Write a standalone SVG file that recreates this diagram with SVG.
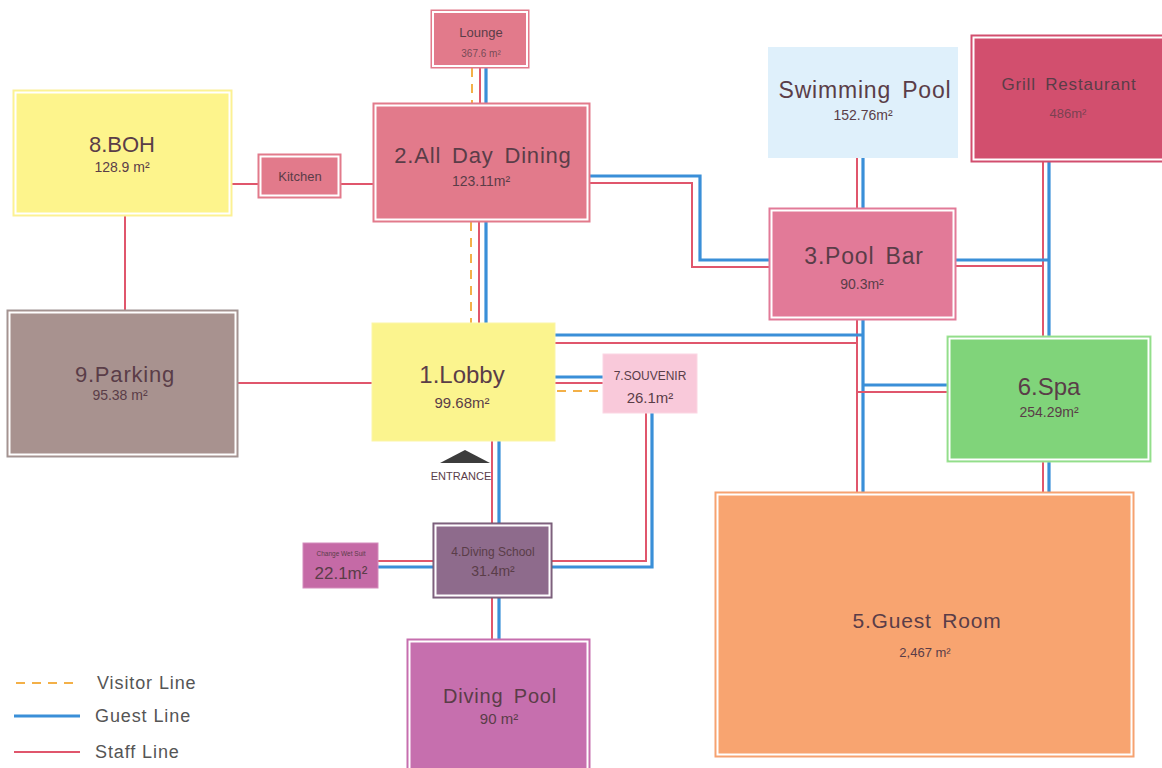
<svg xmlns="http://www.w3.org/2000/svg" width="1162" height="768" viewBox="0 0 1162 768">
<style>
.t{font-family:"Liberation Sans",Arial,sans-serif;text-anchor:middle;fill:#5a3d48}
.ls{letter-spacing:0.8px;word-spacing:4px}
.s{fill:none;stroke:#e0566c;stroke-width:2}
.g{fill:none;stroke:#3a8fd8;stroke-width:3.2}
.v{fill:none;stroke:#f3b048;stroke-width:2;stroke-dasharray:9 7}
.gap{fill:none;stroke:#ffffff;stroke-width:2}
.lg{font-family:"Liberation Sans",Arial,sans-serif;font-size:18px;fill:#555;letter-spacing:0.9px}
</style>
<rect width="1162" height="768" fill="#ffffff"/>
<g id="connectors">
<path class="v" d="M472,68 V103"/><path class="s" d="M480,68 V103"/><path class="g" d="M486,68 V103"/>
<path class="v" d="M471,222 V323"/><path class="s" d="M479,222 V323"/><path class="g" d="M486,222 V323"/>
<path class="s" d="M232,184 H258"/><path class="s" d="M341,184 H373"/>
<path class="s" d="M125,216 V310"/>
<path class="s" d="M238,383 H372"/>
<path class="g" d="M590,176 H700 V260 H769"/>
<path class="s" d="M590,183 H692 V267 H769"/>
<path class="s" d="M857,157 V208"/><path class="g" d="M863,157 V208"/>
<path class="s" d="M1043,162 V336"/><path class="g" d="M1049,162 V336"/>
<path class="s" d="M1043,462 V492"/><path class="g" d="M1049,462 V492"/>
<path class="g" d="M956,260 H1049"/><path class="s" d="M956,266 H1043"/>
<path class="s" d="M857,320 V492"/><path class="g" d="M863,320 V492"/>
<path class="g" d="M555,335 H863"/><path class="s" d="M555,343 H857"/>
<path class="g" d="M863,385 H947"/><path class="s" d="M857,392 H947"/>
<path class="g" d="M555,377 H603"/><path class="s" d="M555,383 H603"/><path class="v" d="M557,391 H603"/>
<path class="s" d="M646,413 V561 H552"/><path class="g" d="M652,413 V567 H552"/>
<path class="s" d="M492,441 V523"/><path class="g" d="M499,441 V523"/>
<path class="s" d="M492,598 V639"/><path class="g" d="M499,598 V639"/>
<path class="s" d="M378,561 H433"/><path class="g" d="M378,567 H433"/>
</g>
<g id="lounge">
<rect x="431" y="10" width="98" height="58" fill="#e27a8b" stroke="#e27a8b"/>
<rect x="433" y="12" width="94" height="54" class="gap"/>
<text class="t" x="481" y="37" font-size="13">Lounge</text>
<text class="t" x="481" y="57" font-size="10" fill-opacity="0.8">367.6 m²</text>
</g>
<g id="dining">
<rect x="373" y="103" width="217" height="119" fill="#e27a8b" stroke="#e27a8b"/>
<rect x="375.5" y="105.5" width="212" height="114" class="gap"/>
<text class="t ls" x="483" y="163" font-size="22">2.All Day Dining</text>
<text class="t" x="481" y="186" font-size="14">123.11m²</text>
</g>
<g id="boh">
<rect x="13" y="90" width="219" height="126" fill="#fdf48c" stroke="#fbef9a"/>
<rect x="15.5" y="92.5" width="214" height="121" class="gap"/>
<text class="t" x="122" y="152" font-size="22" fill="#4e4136">8.BOH</text>
<text class="t" x="122" y="172" font-size="14" fill="#4e4136">128.9 m²</text>
</g>
<g id="kitchen">
<rect x="258" y="154" width="83" height="44" fill="#e27a8b" stroke="#e27a8b"/>
<rect x="260.5" y="156.5" width="78" height="39" class="gap"/>
<text class="t" x="300" y="181" font-size="13">Kitchen</text>
</g>
<g id="swimming-pool">
<rect x="768" y="47" width="190" height="111" fill="#dff0fb"/>
<text class="t ls" x="865" y="98" font-size="23" fill="#2f5165">Swimming Pool</text>
<text class="t" x="863" y="120" font-size="14" fill="#2f5165">152.76m²</text>
</g>
<g id="grill">
<rect x="971" y="35" width="195" height="127" fill="#d24f6e" stroke="#d24f6e"/>
<rect x="973.5" y="37.5" width="195" height="122" class="gap"/>
<text class="t ls" x="1069" y="90" font-size="17">Grill Restaurant</text>
<text class="t" x="1068" y="118" font-size="13" fill-opacity="0.75">486m²</text>
</g>
<g id="pool-bar">
<rect x="769" y="208" width="187" height="112" fill="#e27a98" stroke="#e27a98"/>
<rect x="771.5" y="210.5" width="182" height="107" class="gap"/>
<text class="t ls" x="864" y="264" font-size="23">3.Pool Bar</text>
<text class="t" x="862" y="289" font-size="14">90.3m²</text>
</g>
<g id="parking">
<rect x="7" y="310" width="231" height="147" fill="#a8928f" stroke="#a09494"/>
<rect x="9.5" y="312.5" width="226" height="142" class="gap"/>
<text class="t ls" x="125" y="382" font-size="22" fill="#4a3c3e">9.Parking</text>
<text class="t" x="120" y="400" font-size="14" fill="#5d4c4e">95.38 m²</text>
</g>
<g id="lobby">
<rect x="372" y="323" width="183" height="118" fill="#fbf48e" stroke="#fbf5a8"/>
<text class="t" x="462" y="383" font-size="24" fill="#4e4136">1.Lobby</text>
<text class="t" x="462" y="408" font-size="15" fill="#4e4136">99.68m²</text>
</g>
<g id="entrance">
<polygon points="440,463 465,450 490,463" fill="#3c3c3c"/>
<text class="t" x="461" y="480" font-size="11" fill="#444">ENTRANCE</text>
</g>
<g id="souvenir">
<rect x="603" y="354" width="94" height="59" fill="#f9c9da" stroke="#fbd6e3"/>
<text class="t" x="650" y="380" font-size="12">7.SOUVENIR</text>
<text class="t" x="650" y="403" font-size="15">26.1m²</text>
</g>
<g id="spa">
<rect x="947" y="336" width="204" height="126" fill="#80d47a" stroke="#a6e89c"/>
<rect x="949.5" y="338.5" width="199" height="121" class="gap"/>
<text class="t" x="1049" y="395" font-size="24" fill="#2c5a2e">6.Spa</text>
<text class="t" x="1049" y="417" font-size="14" fill="#2c5a2e">254.29m²</text>
</g>
<g id="guest-room">
<rect x="715" y="492" width="419" height="265" fill="#f8a470" stroke="#f4a070"/>
<rect x="717.5" y="494.5" width="414" height="260" class="gap"/>
<text class="t ls" x="927" y="628" font-size="21">5.Guest Room</text>
<text class="t" x="925" y="657" font-size="13">2,467 m²</text>
</g>
<g id="diving-school">
<rect x="433" y="523" width="119" height="75" fill="#8e6b8c" stroke="#6e566e"/>
<rect x="435.5" y="525.5" width="114" height="70" class="gap"/>
<text class="t" x="493" y="556" font-size="12" fill="#5e3e5c">4.Diving School</text>
<text class="t" x="493" y="576" font-size="14" fill="#5e3e5c">31.4m²</text>
</g>
<g id="change-wet-suit">
<rect x="303" y="543" width="75" height="45" fill="#c56aa6" stroke="#d48cbc"/>
<text class="t" x="341" y="556" font-size="6.5" fill="#6a3d60">Change Wet Suit</text>
<text class="t" x="341" y="579" font-size="17" fill="#6a3d60">22.1m²</text>
</g>
<g id="diving-pool">
<rect x="407" y="639" width="183" height="135" fill="#c66fae" stroke="#c66fae"/>
<rect x="409.5" y="641.5" width="178" height="135" class="gap"/>
<text class="t ls" x="500" y="703" font-size="20">Diving Pool</text>
<text class="t" x="499" y="724" font-size="15">90 m²</text>
</g>
<g id="legend">
<path class="v" d="M16,683 H78"/>
<path class="g" d="M14,716 H80"/>
<path class="s" d="M14,752 H80"/>
<text class="lg" x="97" y="689">Visitor Line</text>
<text class="lg" x="95" y="722">Guest Line</text>
<text class="lg" x="95" y="758">Staff Line</text>
</g>
</svg>
